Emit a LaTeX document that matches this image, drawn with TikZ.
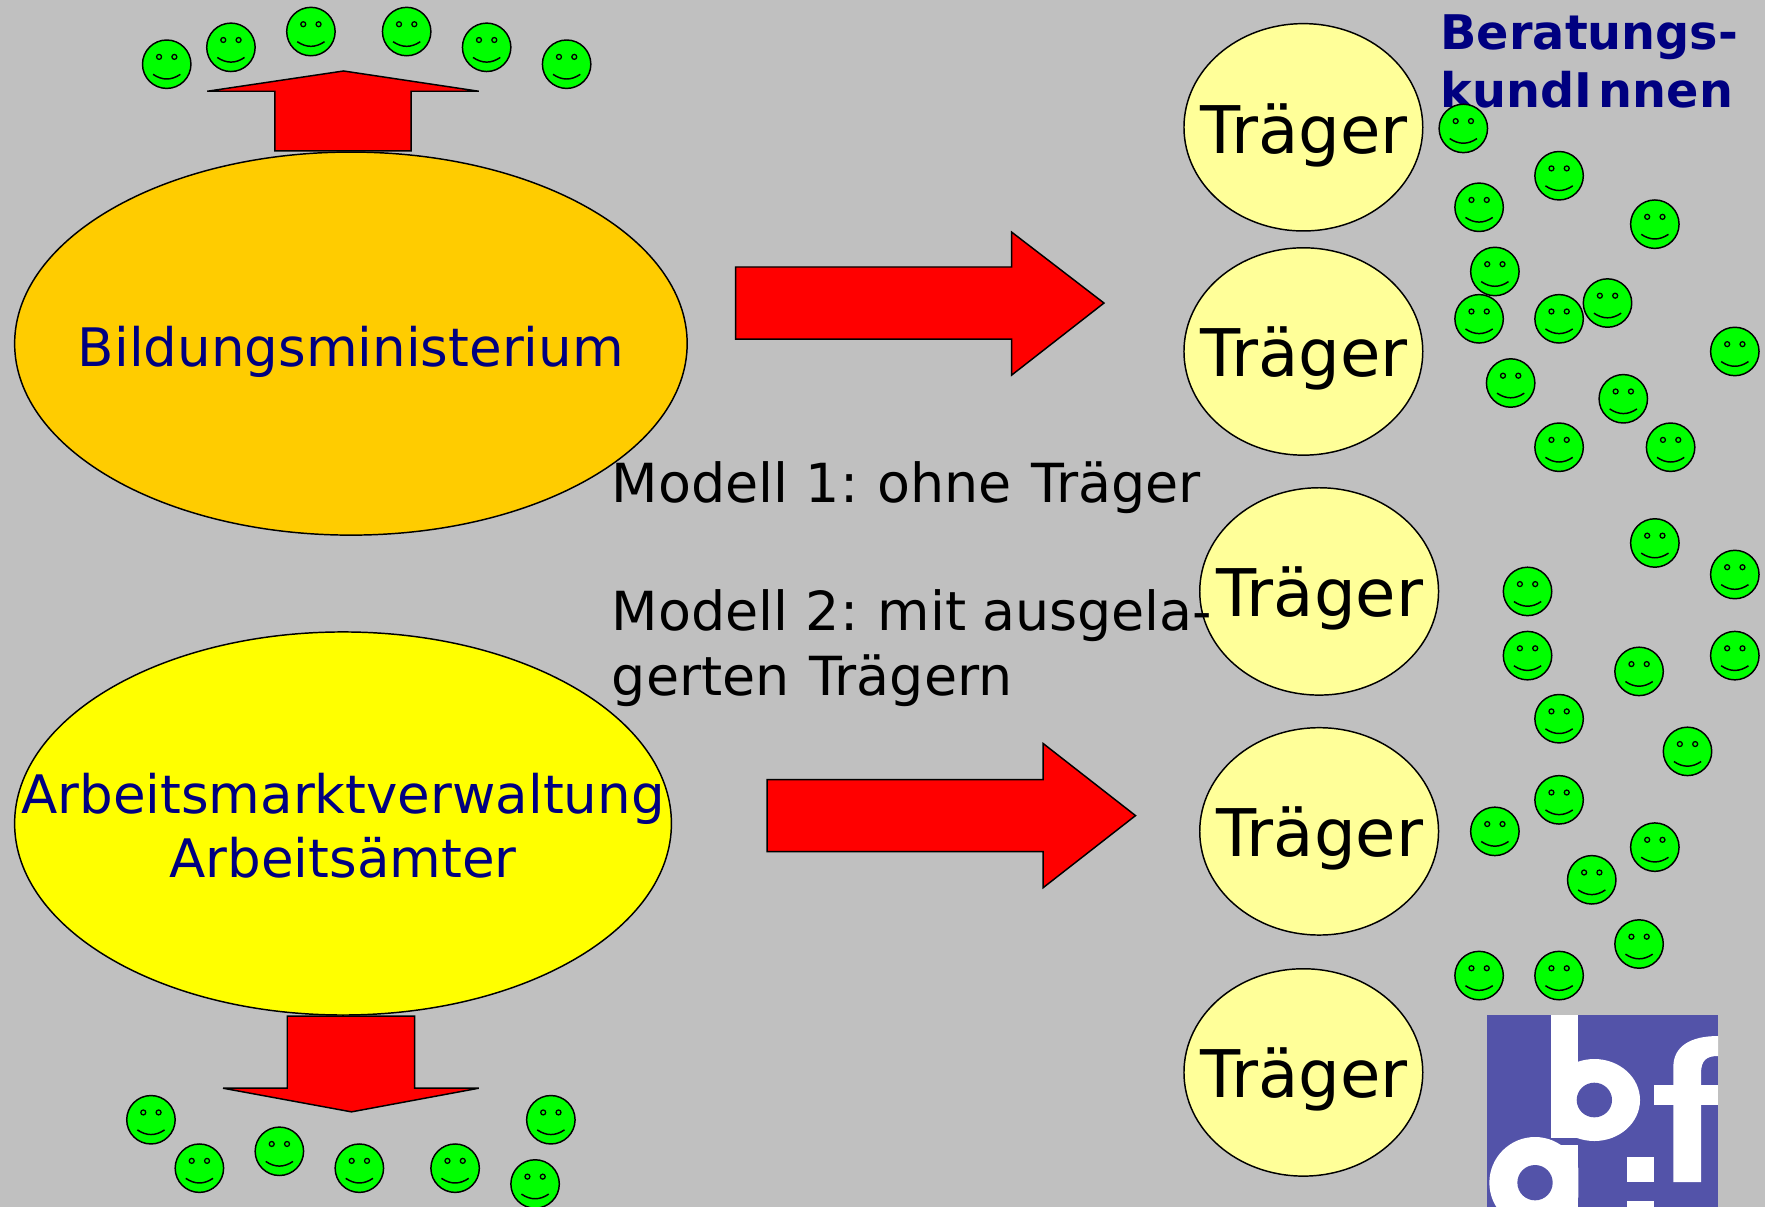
\documentclass[tikz,border=0pt]{standalone}
\usepackage{fontspec}
\setmainfont{DejaVu Sans}
\usetikzlibrary{shapes.geometric}
\definecolor{bggray}{HTML}{C0C0C0}
\definecolor{navytext}{HTML}{000080}
\definecolor{orangefill}{HTML}{FFCC00}
\definecolor{brightyellow}{HTML}{FFFF00}
\definecolor{paleyellow}{HTML}{FFFF99}
\definecolor{logoblue}{HTML}{5353A9}
\definecolor{arrowred}{HTML}{FF0000}
\definecolor{facegreen}{HTML}{00FF00}
\tikzset{
  x=0.8449pt,y=-0.8449pt,
  outline/.style={draw=black,line width=1.1pt,line join=miter},
  bigell/.style={outline,ellipse,inner sep=0pt,minimum width=#1pt,minimum height=287.3pt},
  traeger/.style={outline,ellipse,inner sep=0pt,fill=paleyellow,minimum width=179.1pt,minimum height=155.5pt},
  traegertext/.style={anchor=base,inner sep=0pt,font=\fontsize{49.3}{49.3}\selectfont,text=black},
  navylabel/.style={anchor=base,inner sep=0pt,font=\fontsize{39.8}{39.8}\selectfont,text=navytext},
  modeltext/.style={anchor=base west,inner sep=0pt,font=\fontsize{40.4}{40.4}\selectfont,text=black},
  headtext/.style={anchor=base west,inner sep=0pt,font=\bfseries\fontsize{35.8}{35.8}\selectfont,text=navytext},
  redarrow/.style={outline,fill=arrowred},
  smiley/.pic={
    \draw[line width=1.1pt,fill=facegreen] (0,0) circle[radius=21.5];
    \draw[line width=0.95pt] (-6.8,-6.5) circle[radius=2.2] (6.8,-6.5) circle[radius=2.2];
    \draw[line width=1.1pt] (-12.1,9) .. controls (-4,14.5) and (4,14.5) .. (12.1,9);
  }
}
\begin{document}
\begin{tikzpicture}
\useasboundingbox (0,0) rectangle (1566.8,1071.4);
\fill[bggray] (0,0) rectangle (1566.8,1071.4);

% red arrows
\draw[redarrow] (244,134)--(244,81)--(184,81)--(305,63)--(425,81)--(365,81)--(365,134)--cycle;
\draw[redarrow] (255,902)--(255,966)--(198,966)--(312,987)--(425,966)--(368,966)--(368,902)--cycle;
\draw[redarrow] (653,237)--(898,237)--(898,206)--(980,269)--(898,333)--(898,301)--(653,301)--cycle;
\draw[redarrow] (681,692)--(926,692)--(926,660)--(1008,724)--(926,788)--(926,756)--(681,756)--cycle;

% large ellipses
\node[bigell=504.4,fill=orangefill] (bm) at (311.5,305) {};
\node[bigell=492.6,fill=brightyellow] (amv) at (304.5,731) {};
\node[navylabel] (bmtext) at (311.5,325) {Bildungsministerium};
\node[navylabel] (amvtext1) at (304.5,722) {Arbeitsmarktverwaltung};
\node[navylabel] (amvtext2) at (304.5,779) {Arbeitsämter};

% Traeger
\node[traeger] (t1) at (1157,113) {};
\node[traeger] (t2) at (1157,312) {};
\node[traeger] (t3) at (1171,525) {};
\node[traeger] (t4) at (1171,738) {};
\node[traeger] (t5) at (1157,952) {};
\node[traegertext] (tt1) at (1157.5,136) {Träger};
\node[traegertext] (tt2) at (1157.5,334) {Träger};
\node[traegertext] (tt3) at (1171.5,547) {Träger};
\node[traegertext] (tt4) at (1171.5,760) {Träger};
\node[traegertext] (tt5) at (1157.5,974) {Träger};

% model text
\node[modeltext] (m1) at (543,446) {Modell 1:\kern-2.5pt{} ohne\kern1.5pt{} Träger};
\node[modeltext] (m2) at (543,560) {Modell 2:\kern-2.5pt{} mit\kern-1pt{} ausgela-};
\node[modeltext] (m3) at (543,617) {gerten\kern2pt{} Trägern};

% heading
\node[headtext] (h1) at (1278.5,44) {Beratungs-};
\node[headtext] (h2) at (1278.5,95) {kundI\kern5pt nnen};

% smileys
\foreach \px/\py in {148/57,205/42,276/28,361/28,432/42,503/57,
  1299/114,1384/156,1313/184,1469/199,1327/241,1313/283,1384/283,1427/269,1540/312,1341/340,1441/354,1384/397,1483/397,
  1469/482,1540/510,1356/525,1356/582,1540/582,1455/596,1384/638,1498/667,1384/710,1327/738,1469/752,1413/781,1455/838,1313/866,1384/866,
  134/994,177/1037,248/1022,319/1037,404/1037,489/994,475/1051}
  \pic at (\px,\py) {smiley};

% logo (drawn in reference pixels x3, relative to a local origin)
\begin{scope}[shift={(1242.8,852.2)},x=0.25pt,y=-0.25pt]
  \clip (261,165) rectangle (954,800);
  \fill[logoblue] (261,165) rectangle (954,800);
  \begin{scope}
    \clip (453,165) rectangle (954,800);
    \fill[white] (583,420) ellipse[x radius=137,y radius=123];
  \end{scope}
  \fill[white] (453,165) rectangle (535,535);
  \fill[logoblue] (583,420) ellipse[x radius=53,y radius=52];
  \fill[white] (820,666) -- (820,320) .. controls (820,260) and (870,228) .. (954,228) -- (954,288) .. controls (920,288) and (903,300) .. (903,340) -- (903,666) -- cycle;
  \fill[white] (762,375) rectangle (954,435);
  \begin{scope}
    \clip (261,165) rectangle (535,800);
    \fill[white] (405,668) circle[radius=137];
  \end{scope}
  \fill[white] (453,555) rectangle (535,800);
  \fill[logoblue] (405,668) circle[radius=53];
  \fill[white] (682,590) rectangle (763,667);
  \fill[white] (682,722) rectangle (763,800);
\end{scope}
\end{tikzpicture}
\end{document}
